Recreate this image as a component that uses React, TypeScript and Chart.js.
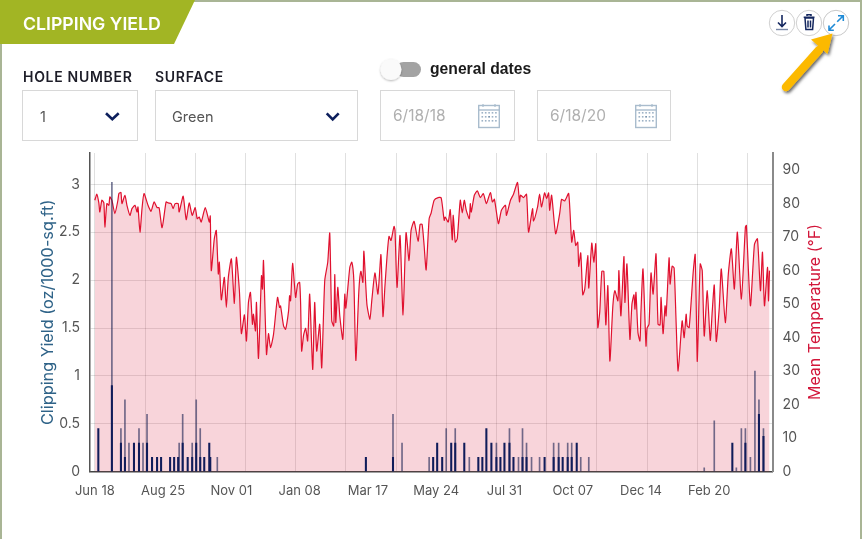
import * as React from 'react';
import Chart from 'chart.js/auto';

// day index counted from Jun 18 at about 1px per day
const tempDays = [0,2,4,5,7,9,10,12,14,15,17,20,23,24,26,27,30,32,35,37,40,42,43,45,47,49,53,56,59,62,64,67,71,73,76,78,80,83,84,88,91,94,97,100,102,104,106,110,114,115,116,119,121,123,124,126,129,131,133,136,139,141,144,146,149,151,153,155,157,158,160,161,163,166,167,168,171,173,175,178,182,184,185,188,190,193,194,195,197,200,202,204,
  205,206,208,210,212,214,217,219,221,224,226,229,232,234,236,238,239,240,242,244,247,249,250,254,256,258,260,263,265,267,268,271,274,276,279,282,285,287,289,291,293,295,298,299,301,304,307,310,313,315,318,322,324,326,328,330,333,335,338,342,345,348,349,352,354,356,357,359,361,364,366,368,370,373,374,375,378,381,384,387,390,394,396,398,402,405,409,410,414,417,421,423,424,427,430,432,
  436,437,441,443,445,448,450,452,453,455,459,463,464,465,468,472,475,477,479,481,482,484,486,488,491,492,495,497,499,501,503,505,507,509,511,513,516,518,521,522,524,527,528,530,533,535,537,538,539,541,543,544,546,549,550,552,554,556,557,559,561,563,564,566,568,569,572,573,575,577,579,581,585,587,589,590,592,596,598,600,601,603,605,607,610,613,615,617,619,622,624,628,631,634,637,640,644,648,649,653,657,660,663,665,667,670,671,672];
const tempValues = [81,82.8,80.2,77.5,81,80.2,73,80,79.5,82,81,77,81,83,83.3,80,82.5,79.5,76.5,78.5,79.5,77.5,79,71.5,78.5,83,79.5,77.7,80.5,78.8,78.8,72.8,80.5,80.2,80,78.5,80,80,77.5,82.2,75.2,80.2,76.5,78.8,75.5,76,74.5,78.8,74.5,76.3,60,69.5,72,59,62.5,51.3,58,49,58,63.5,50.2,64,54,41.2,46.8,39,50.5,53.5,44,47,42,50.5,33.8,58.5,54.5,63,35,41.2,37,41,52,49,49.5,43.5,42.5,48,52.5,51,62.2,52,56,56.5,
  50,36,40.8,42.8,39,53,30.5,50.5,36,44,31,57,62.5,71.2,45,43.5,58.8,44.5,55,46.5,39.5,53,48.8,61,62.5,57,33.2,54,59.8,56.5,65.8,50,45.5,51.5,59.3,53,64.8,46.3,55.5,64,70.2,69,73.2,72,55,70.5,46.8,71.3,63,72,74.7,68.8,73.8,73.8,67.5,60.2,75.5,77.2,81,81.8,81.7,75,76,74.5,78.2,69.2,76.5,68.5,69.5,81,77.2,81,78,75.5,80,77.5,82.5,83.8,81.8,83,80,83.3,80.5,81.3,74,78,79.5,76.5,81,82.8,86.3,80.5,82.5,81.8,82.8,71.5,
  78.5,74.8,79,82.8,79,83.2,81.5,83.2,78,82.5,71,77,79.5,81.3,80.8,83,68.5,72,67.5,68.5,61.3,65.3,52.8,54.5,64.5,54.8,68.2,62.5,68,43,48,59.8,59.8,43.8,55.5,33,49.5,54,51,60,46.5,64.2,50.5,62,39.5,50,52.8,48.5,53.5,41.5,39,48,60.5,37.5,42.8,44,59.3,53,56.5,65,44,43.8,52,41.2,49.5,46.5,63.8,56,61.3,60.8,44.5,30,45,40,47,43.5,43,59.5,64.8,33,41.5,62,60,40.5,54,39.2,48,55.7,38.8,49,60.5,44.5,59,66.5,54.5,71.5,51.5,73,73.5,49.5,67.8,69.5,54,65.5,49.5,61,51,60];

const darkDays = [3.5,17,26,30,39,44,52,57,62,66,75,79,83,87.5,92.5,97,101,105,109,114,115,270,297,337,341,346,355,359,368,382,386,390,395,400,404,408,413,417,426,430,448,457,462,466,471,475,480,635,648,661.5,666];
const darkValues = [0.45,0.9,0.3,0.15,0.3,0.3,0.3,0.15,0.15,0.15,0.15,0.15,0.15,0.3,0.15,0.15,0.3,0.15,0.15,0.3,0.15,0.15,0.15,0.15,0.3,0.15,0.3,0.3,0.3,0.15,0.15,0.45,0.3,0.15,0.15,0.3,0.3,0.15,0.15,0.15,0.15,0.15,0.15,0.15,0.15,0.15,0.3,0.3,0.3,0.6,0.37];
const thinDays = [17,26,30,34,44,48,52,84,87.5,97,101,105,122,297,306,333,350,359,373,400,413,422,426,430,435,443,457,462,471,475,484,492,607,617,639,644,648,653,657.5,661.5,666];
const thinValues = [3.02,0.45,0.75,0.3,0.45,0.3,0.6,0.3,0.6,0.3,0.75,0.45,0.15,0.6,0.3,0.15,0.45,0.45,0.15,0.3,0.45,0.15,0.45,0.3,0.15,0.15,0.3,0.3,0.3,0.3,0.15,0.15,0.04,0.53,0.04,0.45,0.45,0.15,1.05,0.75,0.45];

const labelDays = [0,68,136,204,272,340,408,476,544,612];
const labelNames = ['Jun 18','Aug 25','Nov 01','Jan 08','Mar 17','May 24','Jul 31','Oct 07','Dec 14','Feb 20'];
const gridDays = [0,50,100,150,200,250,300,350,400,450,500,550,600,650];
const yieldTicks = [0,0.5,1,1.5,2,2.5,3];
const tempTicks = [0,10,20,30,40,50,60,70,80,90];

const FONT = 'Inter, sans-serif';

const explicitTicks = (values: number[]) => (scale: any) => {
  scale.ticks = values.map((value) => ({ value }));
};

// fix the axis band so the plot area lands where it is in the picture
const fixWidth = (width: number) => (s: any) => {
  s.width = width;
  s.paddingTop = 0;
  s.paddingBottom = 0;
};

const text = (style: React.CSSProperties, content: string) => (
  <div style={{ position: 'absolute', whiteSpace: 'nowrap', fontFamily: FONT, ...style }}>{content}</div>
);

const box = (left: number, width: number) => (
  <div style={{ position: 'absolute', left, top: 90, width, height: 49, border: '1px solid #d8d8d8', boxSizing: 'content-box' }} />
);

const Calendar = ({ x }: { x: number }) => {
  const dots: React.ReactElement[] = [];
  for (let r = 0; r < 3; r++) {
    for (let c = 0; c < 5; c++) {
      dots.push(<rect key={r + '-' + c} x={x + 3.5 + c * 3.4} y={112 + r * 4} width={1.6} height={1.6} fill={r === 1 && c === 2 ? '#6d8aa6' : '#9db2c6'} />);
    }
  }
  return (
    <g>
      <rect x={x + 0.7} y={105.5} width={20.6} height={22} fill="none" stroke="#a9bccd" strokeWidth={1.4} />
      <line x1={x} x2={x + 22} y1={110} y2={110} stroke="#a9bccd" strokeWidth={1.4} />
      <line x1={x + 5} x2={x + 5} y1={104} y2={107} stroke="#a9bccd" strokeWidth={1.2} />
      <line x1={x + 17} x2={x + 17} y1={104} y2={107} stroke="#a9bccd" strokeWidth={1.2} />
      {dots}
    </g>
  );
};

export default function App() {
  const canvasRef = React.useRef<HTMLCanvasElement>(null);

  React.useEffect(() => {
    if (!canvasRef.current) return;
    const chart = new Chart(canvasRef.current, {
      type: 'bar',
      data: {
        datasets: [
          {
            label: 'Clipping Yield',
            data: darkDays.map((x, i) => ({ x, y: darkValues[i] })),
            backgroundColor: '#101c5a',
            barThickness: 1.4,
            grouped: false,
            xAxisID: 'x',
            yAxisID: 'y',
            order: 0,
          },
          {
            label: 'Clipping Yield (single)',
            data: thinDays.map((x, i) => ({ x, y: thinValues[i] })),
            backgroundColor: 'rgba(40,45,90,0.65)',
            barThickness: 1,
            grouped: false,
            xAxisID: 'x',
            yAxisID: 'y',
            order: 1,
          },
          {
            type: 'line',
            label: 'Mean Temperature',
            data: tempDays.map((x, i) => ({ x, y: tempValues[i] })),
            borderColor: '#e0112f',
            borderWidth: 1.2,
            backgroundColor: 'rgba(222,40,70,0.2)',
            fill: 'origin',
            pointRadius: 0,
            tension: 0.2,
            xAxisID: 'x',
            yAxisID: 'y1',
            order: 2,
          },
        ] as any,
      },
      options: {
        animation: false,
        responsive: false,
        layout: { padding: { top: 13, left: 0, right: 0, bottom: 0 } },
        plugins: { legend: { display: false }, tooltip: { enabled: false } },
        scales: {
          x: {
            type: 'linear',
            position: 'bottom',
            min: -4.8,
            max: 675,
            offset: false,
            afterBuildTicks: explicitTicks(labelDays),
            afterFit: (s: any) => { s.height = 38.3; },
            grid: { display: false, offset: false },
            border: { color: '#444', width: 1.5 },
            ticks: {
              autoSkip: false,
              maxRotation: 0,
              padding: 4,
              color: '#555',
              font: { family: FONT, size: 13 },
              callback: (v: any) => labelNames[labelDays.indexOf(v)] ?? '',
            },
          },
          // gridlines run every 50 days, the date labels every 68
          xGrid: {
            type: 'linear',
            axis: 'x',
            position: 'bottom',
            min: -4.8,
            max: 675,
            offset: false,
            afterBuildTicks: explicitTicks(gridDays),
            afterFit: (s: any) => { s.height = 0; },
            border: { display: false },
            grid: { color: 'rgba(0,0,0,0.12)', drawTicks: false, offset: false },
            ticks: { display: false },
          },
          y: {
            min: 0,
            max: 3.327,
            position: 'left',
            afterBuildTicks: explicitTicks(yieldTicks),
            afterFit: fixWidth(90),
            border: { color: '#555', width: 1.5 },
            grid: { color: 'rgba(0,0,0,0.12)', drawTicks: false },
            ticks: {
              padding: 10,
              color: '#555',
              font: { family: FONT, size: 14 },
              callback: (v: any) => String(v),
            },
            title: {
              display: true,
              text: 'Clipping Yield (oz/1000-sq.ft)',
              color: '#2f6388',
              font: { family: FONT, size: 16.3 },
              padding: { top: 38, bottom: 0 },
            },
          },
          y1: {
            min: 0,
            max: 95.1,
            position: 'right',
            afterBuildTicks: explicitTicks(tempTicks),
            afterFit: fixWidth(89.5),
            border: { color: '#8a8a8a', width: 2 },
            grid: { display: false, drawTicks: false },
            ticks: {
              padding: 10,
              color: '#555',
              font: { family: FONT, size: 14 },
              callback: (v: any) => String(v),
            },
          },
        },
      } as any,
    });
    return () => chart.destroy();
  }, []);

  return (
    <div style={{ position: 'absolute', left: 0, top: 0, width: 862, height: 539, overflow: 'hidden', background: '#fff' }}>
      <div style={{ position: 'absolute', inset: 0, borderTop: '2px solid #a9b595', borderLeft: '2px solid #a9b595', borderRight: '2px solid #a9b595' }} />
      <canvas ref={canvasRef} width={862} height={370} style={{ position: 'absolute', left: 0, top: 140, display: 'block' }} />
      {box(22, 114)}
      {box(155, 201)}
      {box(380, 133)}
      {box(537, 132)}
      <svg width={862} height={539} style={{ position: 'absolute', left: 0, top: 0, pointerEvents: 'none' }}>
        <defs>
          <filter id="arrowShadow" x="-30%" y="-30%" width="170%" height="170%">
            <feDropShadow dx="1.5" dy="2" stdDeviation="1.5" floodColor="#000" floodOpacity="0.6" />
          </filter>
          <filter id="knobShadow" x="-30%" y="-30%" width="170%" height="170%">
            <feDropShadow dx="0" dy="1" stdDeviation="1" floodColor="#000" floodOpacity="0.3" />
          </filter>
        </defs>
        <polygon points="0,0 195,0 174,44 0,44" fill="#a2b524" />
        <polyline points="106,113.3 112.3,119.3 118.7,113.3" fill="none" stroke="#0d1f5c" strokeWidth={2.6} />
        <polyline points="326.7,113.3 332.7,119.3 338.7,113.3" fill="none" stroke="#0d1f5c" strokeWidth={2.6} />
        <rect x={396} y={62} width={25} height={15} rx={7.5} fill="#a3a3a3" />
        <circle cx={391} cy={69.5} r={10.5} fill="#fafafa" filter="url(#knobShadow)" />
        <Calendar x={478} />
        <Calendar x={635} />
        <circle cx={782} cy={23} r={12.7} fill="#fff" stroke="#d0d0d0" />
        <circle cx={809} cy={23} r={12.7} fill="#fff" stroke="#d0d0d0" />
        <circle cx={836} cy={23} r={12.7} fill="#fff" stroke="#c8c8c8" />
        <path d="M782 15v11M778 22.5l4 4 4-4" fill="none" stroke="#14275f" strokeWidth={1.6} />
        <line x1={776} x2={788} y1={29.5} y2={29.5} stroke="#7a89a8" strokeWidth={1.4} />
        <path d="M805 18h8.5l-.9 11.5h-6.7zM803.7 17.2h10.8M807 16v-1.2h4V16M808 20.5v7M810.5 20.5v7" fill="none" stroke="#14275f" strokeWidth={1.5} />
        <path d="M829 30l6-6M829 25.5V30.3h4.8M843 16l-5.8 5.8M838 15.7h5.3V21" fill="none" stroke="#1e8ad6" strokeWidth={1.6} />
        <g filter="url(#arrowShadow)">
          <line x1={786} y1={87} x2={819} y2={50} stroke="#fcb900" strokeWidth={8.5} strokeLinecap="round" />
          <polygon points="832.5,33.5 811,39.5 827.5,54" fill="#fcb900" />
        </g>
      </svg>
      {text({ left: 23, top: 12, fontSize: 17.7, fontWeight: 600, color: '#fff', lineHeight: '24px' }, 'CLIPPING YIELD')}
      {text({ left: 23, top: 68, fontSize: 14, fontWeight: 600, color: '#1d1d28', letterSpacing: 0.7, lineHeight: '18px' }, 'HOLE NUMBER')}
      {text({ left: 155, top: 68, fontSize: 14, fontWeight: 600, color: '#1d1d28', letterSpacing: 0.7, lineHeight: '18px' }, 'SURFACE')}
      {text({ left: 40, top: 108, fontSize: 14.5, color: '#555', lineHeight: '18px' }, '1')}
      {text({ left: 172, top: 108, fontSize: 14.5, color: '#555', lineHeight: '18px' }, 'Green')}
      {text({ left: 430, top: 60, fontSize: 15.7, fontWeight: 700, color: '#1a1a1a', lineHeight: '18px', fontFamily: '"Liberation Sans", sans-serif' }, 'general dates')}
      {text({ left: 393, top: 107, fontSize: 15.5, color: '#b0b0b0', lineHeight: '18px' }, '6/18/18')}
      {text({ left: 550, top: 107, fontSize: 15.5, color: '#b0b0b0', lineHeight: '18px' }, '6/18/20')}
      <div style={{ position: 'absolute', left: 814, top: 312, fontFamily: FONT, fontSize: 16, color: '#d2163a', whiteSpace: 'nowrap', transform: 'translate(-50%,-50%) rotate(-90deg)' }}>Mean Temperature (°F)</div>
    </div>
  );
}
